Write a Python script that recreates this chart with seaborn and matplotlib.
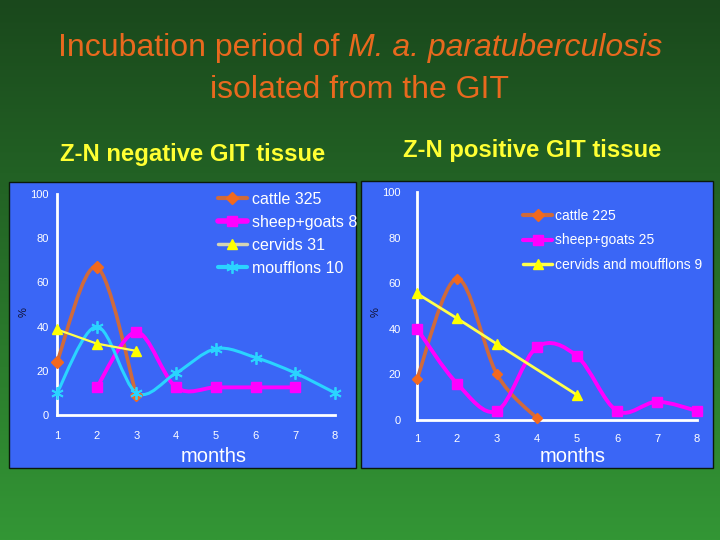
import numpy as np
import matplotlib
matplotlib.use("Agg")
import matplotlib.pyplot as plt
import seaborn as sns
from matplotlib.path import Path
from matplotlib.patches import PathPatch, Rectangle
from matplotlib.lines import Line2D

# months on the x axis
months = [1, 2, 3, 4, 5, 6, 7, 8]

# Z-N negative GIT tissue (% of isolates per month)
neg_cattle_x = [1, 2, 3]
neg_cattle = [24, 67, 9]
neg_sheep_x = [2, 3, 4, 5, 6, 7]
neg_sheep = [12.5, 37.5, 12.5, 12.5, 12.5, 12.5]
neg_cervids_x = [1, 2, 3]
neg_cervids = [38.7, 32.3, 29.0]
neg_mouff_x = [1, 2, 3, 4, 5, 6, 7, 8]
neg_mouff = [10, 40, 10, 19, 30, 26, 19, 10]

# Z-N positive GIT tissue
pos_cattle_x = [1, 2, 3, 4]
pos_cattle = [18, 62, 20, 0.7]
pos_sheep_x = [1, 2, 3, 4, 5, 6, 7, 8]
pos_sheep = [40, 16, 4, 32, 28, 4, 8, 4]
pos_cerv_x = [1, 2, 3, 4, 5]
pos_cerv = [55.5, 44.6, 33.3, np.nan, 11.0]

neg_labels = ["cattle 325", "sheep+goats 8", "cervids 31", "moufflons 10"]
pos_labels = ["cattle 225", "sheep+goats 25", "cervids and moufflons 9"]

sns.set_style("white")
plt.rcParams["font.family"] = ["Liberation Sans", "DejaVu Sans"]

BLUE = "#3A66F6"
ORANGE_LINE = "#CF6A3C"
ORANGE_MK = "#F2691E"
MAGENTA = "#FF00FF"
YELLOW = "#FFFF4D"
CYAN = "#2AD4FF"


def smooth_path(xs, ys):
    # bezier smoothing through the points, like the spreadsheet "smoothed line"
    pts = list(zip(xs, ys))
    n = len(pts)
    verts = [pts[0]]
    codes = [Path.MOVETO]
    for i in range(n - 1):
        p0 = pts[i - 1] if i > 0 else pts[i]
        p1 = pts[i]
        p2 = pts[i + 1]
        p3 = pts[i + 2] if i + 2 < n else pts[i + 1]
        c1 = (p1[0] + (p2[0] - p0[0]) / 6, p1[1] + (p2[1] - p0[1]) / 6)
        c2 = (p2[0] - (p3[0] - p1[0]) / 6, p2[1] - (p3[1] - p1[1]) / 6)
        verts += [c1, c2, p2]
        codes += [Path.CURVE4] * 3
    return Path(verts, codes)


def series(ax, xs, ys, color, lw, marker, ms, mfc, smooth=True, mew=1.0, z=3):
    xs = np.asarray(xs, float)
    ys = np.asarray(ys, float)
    ok = ~np.isnan(ys)
    xs, ys = xs[ok], ys[ok]
    if smooth:
        ax.add_patch(PathPatch(smooth_path(xs, ys), fill=False, edgecolor=color,
                               lw=lw, zorder=z, clip_on=False, capstyle="round"))
        ls = ""
    else:
        ls = "-"
    sns.lineplot(x=xs, y=ys, ax=ax, color=color, lw=lw, linestyle=ls, marker=marker,
                 markersize=ms, markerfacecolor=mfc, markeredgecolor=mfc, markeredgewidth=mew,
                 estimator=None, sort=False, clip_on=False, zorder=z + 0.5, legend=False)


def style_axes(ax, ypad, xpad):
    ax.set_xlim(1, 8)
    ax.set_ylim(0, 100)
    ax.set_facecolor("none")
    for s in ["top", "right"]:
        ax.spines[s].set_visible(False)
    for s in ["left", "bottom"]:
        ax.spines[s].set_color("white")
        ax.spines[s].set_linewidth(2)
        ax.spines[s].set_zorder(2)
    ax.set_xticks(months)
    ax.set_yticks([0, 20, 40, 60, 80, 100])
    ax.tick_params(axis="both", colors="white", labelcolor="white", labelsize=8,
                   length=3.8, width=1.6, direction="out")
    ax.tick_params(axis="y", pad=ypad)
    ax.tick_params(axis="x", pad=xpad)
    ax.set_xlabel("")
    ax.set_ylabel("")


fig = plt.figure(figsize=(7.2, 5.4), dpi=100)

# slide background
bg = fig.add_axes([0, 0, 1, 1], zorder=-10)
grad = np.linspace(0, 1, 256)[:, None]
top = np.array([26, 72, 28]) / 255
bot = np.array([51, 150, 53]) / 255
img = top + (bot - top) * grad[..., None]
img = np.repeat(img, 2, axis=1)
bg.imshow(img, extent=[0, 720, 540, 0], aspect="auto")
bg.add_patch(Rectangle((8.5, 181.5), 347.5, 286.5, facecolor=BLUE, edgecolor="#0a1a0a", lw=1))
bg.add_patch(Rectangle((360.5, 180.5), 352, 287.5, facecolor=BLUE, edgecolor="#0a1a0a", lw=1))
bg.set_xlim(0, 720)
bg.set_ylim(540, 0)
bg.axis("off")

# left panel
ax1 = fig.add_axes([57 / 720, 1 - 415 / 540, 278 / 720, 221 / 540])
style_axes(ax1, 2, 8)
series(ax1, neg_cattle_x, neg_cattle, ORANGE_LINE, 2.6, "D", 6.5, ORANGE_MK)
series(ax1, neg_sheep_x, neg_sheep, MAGENTA, 2.8, "s", 6.5, MAGENTA)
series(ax1, neg_cervids_x, neg_cervids, YELLOW, 1.6, "^", 7, "#FFFF00", smooth=False)
series(ax1, neg_mouff_x, neg_mouff, CYAN, 2.2, (6, 2, 0), 9, CYAN, mew=1.3)

h1 = [
    Line2D([], [], color=ORANGE_LINE, lw=3, marker="D", ms=6.5, mfc=ORANGE_MK, mec=ORANGE_MK),
    Line2D([], [], color=MAGENTA, lw=4, marker="s", ms=7, mfc=MAGENTA, mec=MAGENTA),
    Line2D([], [], color="#D4D4B4", lw=2.5, marker="^", ms=7, mfc="#FFFF00", mec="#FFFF00"),
    Line2D([], [], color=CYAN, lw=3, marker=(6, 2, 0), ms=9, mfc=CYAN, mec=CYAN, mew=1.3),
]
ax1.legend(h1, neg_labels, loc="upper left", bbox_to_anchor=(218 / 720, 1 - 192 / 540),
           bbox_transform=fig.transFigure, frameon=False, fontsize=11.5, labelcolor="white",
           borderpad=0, borderaxespad=0, handlelength=1.8, handletextpad=0.3,
           labelspacing=0.5)

# right panel
ax2 = fig.add_axes([417 / 720, 1 - 420 / 540, 280 / 720, 228 / 540])
style_axes(ax2, 8, 6)
series(ax2, pos_cattle_x, pos_cattle, ORANGE_LINE, 2.6, "D", 5.5, ORANGE_MK)
series(ax2, pos_sheep_x, pos_sheep, MAGENTA, 2.8, "s", 6.5, MAGENTA)
series(ax2, pos_cerv_x, pos_cerv, YELLOW, 2.0, "^", 7, "#FFFF00", smooth=False)

h2 = [
    Line2D([], [], color=ORANGE_LINE, lw=3, marker="D", ms=6, mfc=ORANGE_MK, mec=ORANGE_MK),
    Line2D([], [], color=MAGENTA, lw=3, marker="s", ms=7, mfc=MAGENTA, mec=MAGENTA),
    Line2D([], [], color=YELLOW, lw=2.5, marker="^", ms=7, mfc="#FFFF00", mec="#FFFF00"),
]
ax2.legend(h2, pos_labels, loc="upper left", bbox_to_anchor=(523 / 720, 1 - 209 / 540),
           bbox_transform=fig.transFigure, frameon=False, fontsize=10, labelcolor="white",
           borderpad=0, borderaxespad=0, handlelength=2.1, handletextpad=0.2,
           labelspacing=0.75)

# title: plain part + italic species name, centred together
TITLE = "#E8691E"
TSIZE = 23
r = fig.canvas.get_renderer()
t1 = fig.text(0, 1 - 56 / 540, "Incubation period of", ha="left", va="baseline",
              fontsize=TSIZE, color=TITLE)
t2 = fig.text(0, 1 - 56 / 540, "M. a. paratuberculosis", ha="left", va="baseline",
              fontsize=TSIZE, color=TITLE, style="italic")
w1 = t1.get_window_extent(r).width
w2 = t2.get_window_extent(r).width
gap = 0.278 * TSIZE * 100 / 72
x0 = (720 - (w1 + gap + w2)) / 2
t1.set_x(x0 / 720)
t2.set_x((x0 + w1 + gap) / 720)
fig.text(0.5, 1 - 98 / 540, "isolated from the GIT", ha="center", va="baseline",
         fontsize=TSIZE, color=TITLE)

fig.text(192.5 / 720, 1 - 161 / 540, "Z-N negative GIT tissue", ha="center", va="baseline",
         fontsize=17.2, fontweight="bold", color="#FFFF33")
fig.text(532.5 / 720, 1 - 157 / 540, "Z-N positive GIT tissue", ha="center", va="baseline",
         fontsize=17.2, fontweight="bold", color="#FFFF33")
fig.text(214 / 720, 1 - 462 / 540, "months", ha="center", va="baseline", fontsize=14.5,
         color="white")
fig.text(573 / 720, 1 - 462 / 540, "months", ha="center", va="baseline", fontsize=14.5,
         color="white")
fig.text(24 / 720, 1 - 312 / 540, "%", ha="center", va="center", rotation=90, fontsize=8,
         color="#101030")
fig.text(376 / 720, 1 - 312 / 540, "%", ha="center", va="center", rotation=90, fontsize=8,
         color="#101030")

fig.savefig("out.png", dpi=100)
